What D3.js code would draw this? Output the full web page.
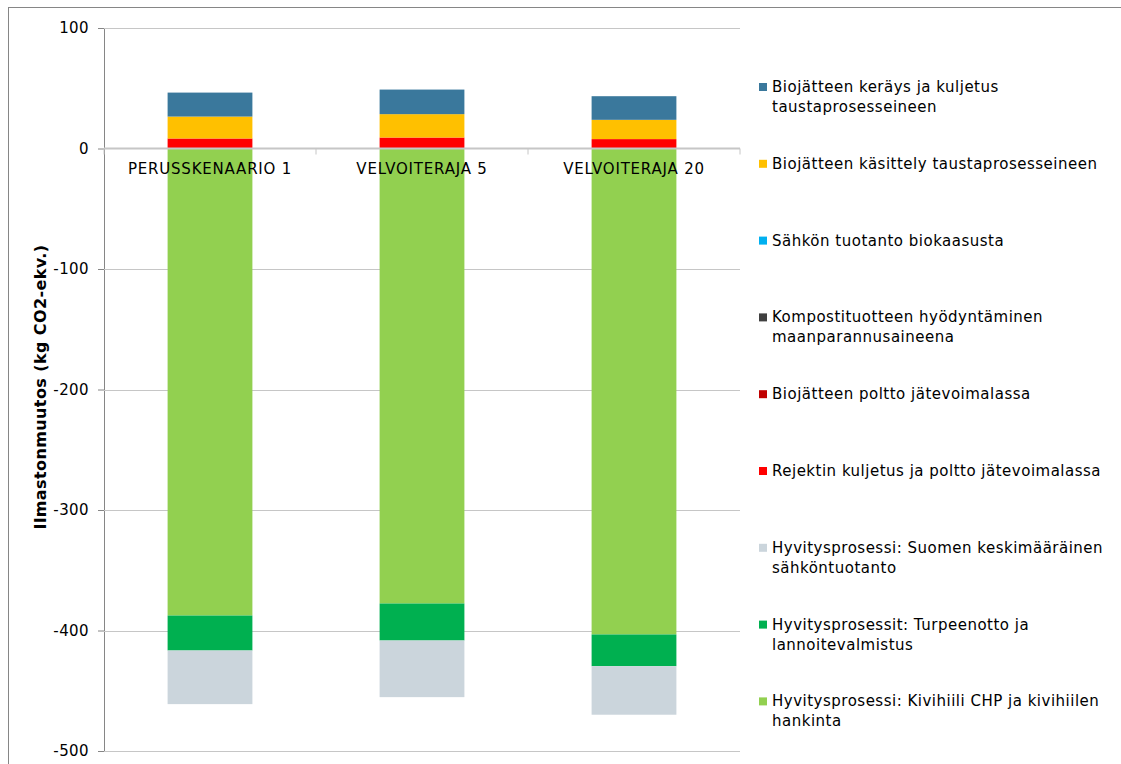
<!DOCTYPE html>
<html><head><meta charset="utf-8">
<script src="https://cdn.jsdelivr.net/npm/d3@7"></script>
<style>body{margin:0;background:#fff}svg{display:block}</style>
</head><body><svg id="c" width="1121" height="764"></svg>
<script>
const categories = ["PERUSSKENAARIO 1", "VELVOITERAJA 5", "VELVOITERAJA 20"];
// series in Excel order (first = bottom of stack)
const seriesNames = [
  "Hyvitysprosessi: Kivihiili CHP ja kivihiilen hankinta",
  "Hyvitysprosessit: Turpeenotto ja lannoitevalmistus",
  "Hyvitysprosessi: Suomen keskimääräinen sähköntuotanto",
  "Rejektin kuljetus ja poltto jätevoimalassa",
  "Biojätteen poltto jätevoimalassa",
  "Kompostituotteen hyödyntäminen maanparannusaineena",
  "Sähkön tuotanto biokaasusta",
  "Biojätteen käsittely taustaprosesseineen",
  "Biojätteen keräys ja kuljetus taustaprosesseineen"
];
const seriesColors = ["#92D050","#00B050","#CBD5DC","#FF0000","#C00000","#404040","#00B0F0","#FFC000","#3A789C"];
const kivihiili   = [-387.6, -377.6, -403.3];
const turve       = [-29.0, -30.7, -26.3];
const sahkoSuomi  = [-44.5, -47.0, -40.3];
const rejekti     = [8.3, 9.1, 7.8];
const poltto      = [0, 0, 0];
const komposti    = [0, 0, 0];
const biokaasu    = [0, 0, 0];
const kasittely   = [18.2, 19.4, 16.0];
const kerays      = [19.9, 20.4, 19.6];
const seriesValues = [kivihiili, turve, sahkoSuomi, rejekti, poltto, komposti, biokaasu, kasittely, kerays];
const yTicks = [100, 0, -100, -200, -300, -400, -500];
const yTitle = "Ilmastonmuutos (kg CO2-ekv.)";

const svg = d3.select("#c");
const font = "'DejaVu Sans', Verdana, sans-serif";
const L = 104, R = 740, T = 28, B = 751;

svg.append("rect").attr("x",8.5).attr("y",7.5).attr("width",1130).attr("height",800)
  .attr("fill","none").attr("stroke","#868686").attr("stroke-width",1);

const y = d3.scaleLinear().domain([-500,100]).range([B,T]);
const x = d3.scaleBand().domain(categories).range([L,R]).paddingInner(0.6).paddingOuter(0.3);

const yAxis = d3.axisLeft(y).tickValues(yTicks).tickSize(6).tickPadding(9).tickFormat(d=>String(d));
const gy = svg.append("g").attr("transform",`translate(${L},0)`).call(yAxis);
gy.select(".domain").attr("stroke","#868686");
gy.selectAll(".tick line").attr("stroke","#868686");
gy.selectAll(".tick text").attr("font-family",font).attr("font-size",15).attr("letter-spacing","0.4px").attr("fill","#000");
svg.append("g").selectAll("line").data(yTicks.filter(d=>d!==0)).join("line")
  .attr("x1",L).attr("x2",R).attr("y1",d=>Math.round(y(d))+0.5).attr("y2",d=>Math.round(y(d))+0.5)
  .attr("stroke","#c6c6c6");

const rows = categories.map((c,i)=>{const o={cat:c}; seriesNames.forEach((s,j)=>o[s]=seriesValues[j][i]); return o;});
const stack = d3.stack().keys(seriesNames).offset(d3.stackOffsetDiverging)(rows);
stack.forEach((layer,j)=>{
  svg.append("g").selectAll("rect").data(layer).join("rect")
    .attr("x",d=>x(d.data.cat)).attr("width",x.bandwidth())
    .attr("y",d=>y(d[1])).attr("height",d=>Math.max(0,y(d[0])-y(d[1])))
    .attr("fill",seriesColors[j]);
});

svg.append("line").attr("x1",L).attr("x2",R).attr("y1",Math.round(y(0))+0.5).attr("y2",Math.round(y(0))+0.5).attr("stroke","#c6c6c6").attr("stroke-width",2);
const step = (R-L)/categories.length;
svg.append("g").selectAll("line").data(d3.range(categories.length+1)).join("line")
  .attr("x1",i=>L+i*step).attr("x2",i=>L+i*step).attr("y1",y(0)).attr("y2",y(0)+6).attr("stroke","#c6c6c6");
svg.append("g").selectAll("text").data(categories).join("text")
  .attr("x",d=>x(d)+x.bandwidth()/2).attr("y",y(0)+25).attr("text-anchor","middle")
  .attr("font-family",font).attr("font-size",15).attr("letter-spacing","0.8px").text(d=>d);

svg.append("text").attr("transform",`translate(46,387) rotate(-90)`).attr("text-anchor","middle")
  .attr("font-family",font).attr("font-size",16).attr("letter-spacing","0.4px").attr("font-weight","bold").text(yTitle);

const legendLines = [
  ["Biojätteen keräys ja kuljetus","taustaprosesseineen"],
  ["Biojätteen käsittely taustaprosesseineen"],
  ["Sähkön tuotanto biokaasusta"],
  ["Kompostituotteen hyödyntäminen","maanparannusaineena"],
  ["Biojätteen poltto jätevoimalassa"],
  ["Rejektin kuljetus ja poltto jätevoimalassa"],
  ["Hyvitysprosessi: Suomen keskimääräinen","sähköntuotanto"],
  ["Hyvitysprosessit: Turpeenotto ja","lannoitevalmistus"],
  ["Hyvitysprosessi: Kivihiili CHP ja kivihiilen","hankinta"]
];
const legColors = seriesColors.slice().reverse();
const lg = svg.append("g");
legendLines.forEach((lines,i)=>{
  const cy = 87 + i*76.8;
  lg.append("rect").attr("x",759).attr("y",cy-4).attr("width",8).attr("height",8).attr("fill",legColors[i]);
  lines.forEach((t,k)=>{
    lg.append("text").attr("x",772).attr("y",cy+5+k*20).attr("font-family",font).attr("font-size",15).attr("letter-spacing","0.5px").text(t);
  });
});
</script></body></html>
